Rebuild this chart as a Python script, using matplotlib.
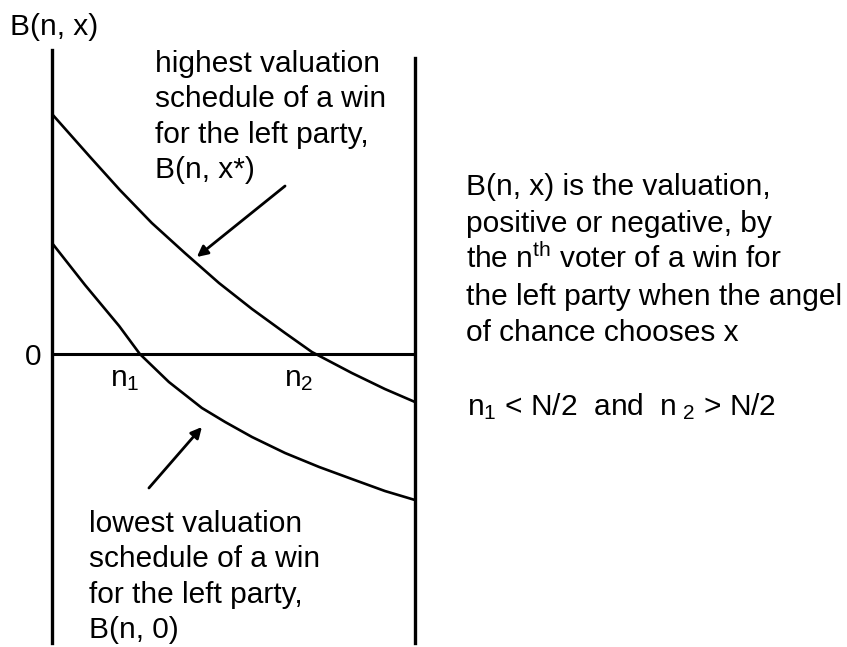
"""Voter valuation schedules B(n, x) for a win by the left party."""

import matplotlib

matplotlib.use("Agg")
import matplotlib.pyplot as plt

plt.rcParams["font.family"] = ["Liberation Sans", "DejaVu Sans"]
plt.rcParams["mathtext.fontset"] = "custom"
plt.rcParams["mathtext.rm"] = "Liberation Sans"
plt.rcParams["mathtext.it"] = "Liberation Sans"

# voter index n (0..N, N = 100) and valuation on each schedule
n_high = [0, 10.5, 18.7, 27.5, 36.6, 46.0, 55.1, 64.2, 71.6, 82.6, 91.7, 100]
b_high = [2.40, 1.97, 1.64, 1.31, 1.01, 0.71, 0.45, 0.21, 0.02, -0.19, -0.35,
          -0.48]
n_low = [0, 9.1, 18.5, 24.2, 32.2, 41.3, 47.7, 55.1, 64.2, 73.6, 82.6, 91.7,
         100]
b_low = [1.11, 0.69, 0.28, 0.0, -0.28, -0.54, -0.68, -0.83, -0.99, -1.13,
         -1.25, -1.37, -1.46]

high_label = ["highest valuation", "schedule of a win",
              "for the left party,", "B(n, x*)"]
low_label = ["lowest valuation", "schedule of a win",
             "for the left party,", "B(n, 0)"]
note = ["B(n, x) is the valuation,", "positive or negative, by",
        r"the n$^{\rm th}$ voter of a win for",
        "the left party when the angel", "of chance chooses x"]
condition = r"n$_1$ < N/2  and  n$_{\,\,2}$ > N/2"

W, H = 847, 647
fig = plt.figure(figsize=(W / 100, H / 100), dpi=100)
ax = fig.add_axes([52 / W, 0, 363 / W, 1])
ax.set_xlim(0, 100)
ax.set_ylim(-2.93, 3.54)
ax.set_xticks([])
ax.set_yticks([])
for side in ("top", "bottom"):
    ax.spines[side].set_visible(False)
ax.spines["left"].set_bounds(-2.89, 3.04)
ax.spines["right"].set_bounds(-2.89, 2.96)
for side in ("left", "right"):
    ax.spines[side].set_linewidth(2.4)

ax.axhline(0, color="black", lw=2.2)
ax.plot(n_high, b_high, color="black", lw=1.9, solid_capstyle="butt")
ax.plot(n_low, b_low, color="black", lw=1.9, solid_capstyle="butt")

arrow = dict(arrowstyle="-|>", color="black", lw=2, mutation_scale=16,
             shrinkA=0, shrinkB=0)
ax.annotate("", xy=(39.9, 0.97), xytext=(64.2, 1.68), arrowprops=arrow)
ax.annotate("", xy=(41.3, -0.73), xytext=(26.7, -1.34), arrowprops=arrow)

fs = 21.5


def put(px, py, s, **kw):
    fig.text(px / W, 1 - py / H, s, fontsize=fs, va="baseline", **kw)


put(10, 35, "B(n, x)")
put(33, 365, "0", ha="center")
put(110, 386, r"n$_1$")
put(284, 386, r"n$_2$")

for i, line in enumerate(high_label):
    put(155, 72 + 35.3 * i, line)
for i, line in enumerate(low_label):
    put(89, 532 + 35.3 * i, line)
for i, line in enumerate(note):
    put(466, 195 + 36.5 * i, line)
put(467, 415, condition)

fig.savefig("out.png", dpi=100, facecolor="white")
